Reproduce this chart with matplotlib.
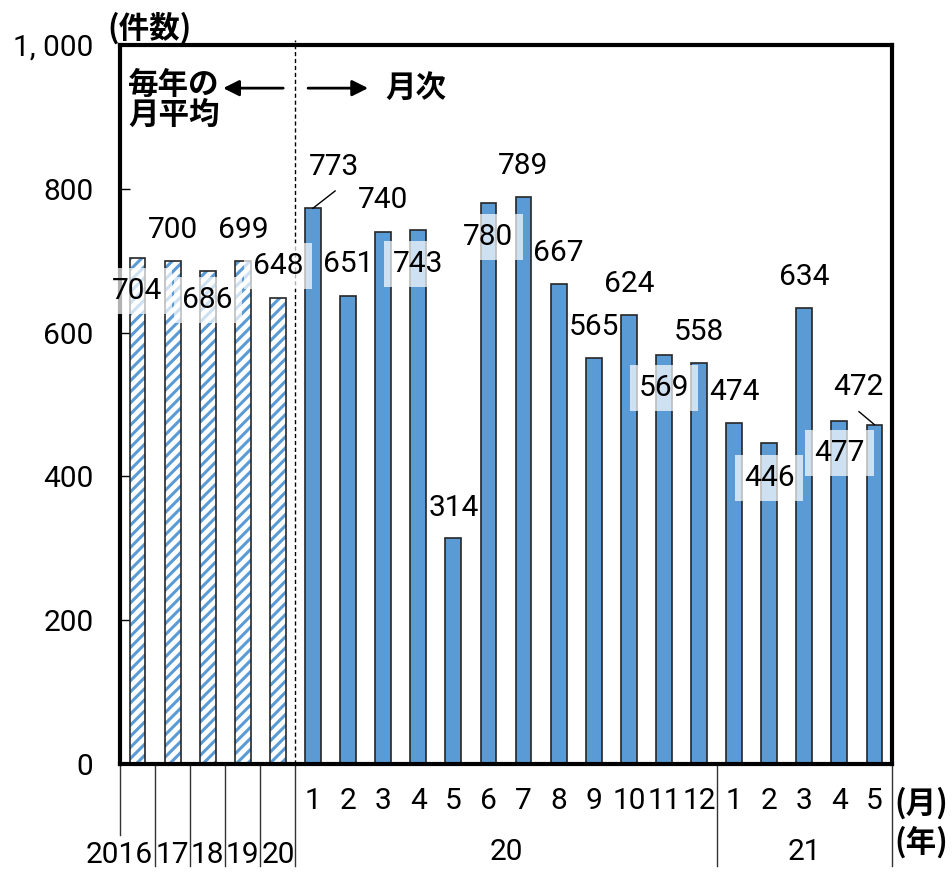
import matplotlib
matplotlib.use('Agg')
import matplotlib.pyplot as plt
import matplotlib.transforms as mtransforms
from matplotlib.lines import Line2D

plt.rcParams['font.family'] = ['Noto Sans CJK JP', 'DejaVu Sans']
plt.rcParams['hatch.linewidth'] = 2.2

# ---------------- data ----------------
annual_years = ['2016', '17', '18', '19', '20']
annual_values = [704, 700, 686, 699, 648]

month_labels = ['1', '2', '3', '4', '5', '6', '7', '8', '9', '10', '11', '12',
                '1', '2', '3', '4', '5']
monthly_values = [773, 651, 740, 743, 314, 780, 789, 667, 565, 624, 569, 558,
                  474, 446, 634, 477, 472]
period_years = ['20', '21']
period_lengths = [12, 5]

y_ticks = [0, 200, 400, 600, 800, 1000]
y_tick_labels = ['0', '200', '400', '600', '800', '1, 000']

# ---------------- label layout (offset from bar centre, absolute height) ----
label_dx = [0, 0, 0, 0, 0,
            0.6, 0, 0, 0, 0, 0, 0, 0, 0, 0, 0, 0,
            0, 0, 0, 0, -0.45]
label_y = [658, 743, 645, 743, 693,
           830, 695, 784, 695, 356, 733, 832, 711, 608, 668, 523, 601,
           517, 398, 677, 433, 524]
label_box = [True, False, True, False, True,
             False, False, False, True, False, True, False, False, False, False, True, False,
             False, True, False, True, False]
leader_end = {5: (5.63, 797), 21: (20.56, 490)}

BLUE = '#5B9BD5'
EDGE = '#262626'
FS = 21.5
NUM_FONT = dict(family=['Roboto', 'Noto Sans CJK JP', 'DejaVu Sans'], fontweight='normal')

fig = plt.figure(figsize=(9.53, 8.72), dpi=100)
ax = fig.add_axes([120 / 953, 1 - 764 / 872, (892 - 120) / 953, (764 - 45) / 872])

n_ann = len(annual_values)
n_mon = len(monthly_values)
x_ann = list(range(n_ann))
x_mon = list(range(n_ann, n_ann + n_mon))
W = 0.45

# hatched annual-average bars
ax.bar(x_ann, annual_values, W, color='white', edgecolor=BLUE, hatch='///', linewidth=0, zorder=2)
ax.bar(x_ann, annual_values, W, fill=False, edgecolor=EDGE, linewidth=1.2, zorder=2.1)
# monthly bars
ax.bar(x_mon, monthly_values, W, color=BLUE, edgecolor=EDGE, linewidth=1.2, zorder=2)

ax.set_xlim(-0.5, n_ann + n_mon - 0.5)
ax.set_ylim(0, 1000)

for s in ax.spines.values():
    s.set_linewidth(3)
    s.set_color('black')

ax.set_xticks([])
ax.set_yticks(y_ticks)
ax.set_yticklabels(y_tick_labels)
ax.tick_params(axis='y', direction='in', length=7, width=1, pad=19)
for lab in ax.get_yticklabels():
    lab.set_fontsize(FS)
    lab.set_family(NUM_FONT['family'])
    lab.set_fontweight(NUM_FONT['fontweight'])

# value labels
all_vals = annual_values + monthly_values
for i, v in enumerate(all_vals):
    kw = {}
    if label_box[i]:
        kw['bbox'] = dict(boxstyle='square,pad=0.3', fc='white', ec='none', alpha=0.7)
    ax.text(i + label_dx[i], label_y[i], str(v), ha='center', va='center',
            fontsize=FS, zorder=4, **NUM_FONT, **kw)
    if i in leader_end:
        ex, ey = leader_end[i]
        ax.plot([i, ex], [v, ey], color='black', lw=1, zorder=4)

# dashed divider between annual averages and monthly values
ax.plot([n_ann - 0.5, n_ann - 0.5], [0, 1007], ls=(0, (3, 2)), color='black', lw=1,
        clip_on=False, zorder=3)

# annotations inside
ax.text(-0.27, 944, '毎年の', ha='left', va='center', fontsize=22, fontweight='bold')
ax.text(-0.27, 903, '月平均', ha='left', va='center', fontsize=22, fontweight='bold')
ax.annotate('', xy=(2.44, 940), xytext=(4.15, 940),
            arrowprops=dict(arrowstyle='-|>', lw=2, color='black', mutation_scale=24,
                            shrinkA=0, shrinkB=0))
ax.annotate('', xy=(6.57, 940), xytext=(4.86, 940),
            arrowprops=dict(arrowstyle='-|>', lw=2, color='black', mutation_scale=24,
                            shrinkA=0, shrinkB=0))
ax.text(7.05, 940, '月次', ha='left', va='center', fontsize=22, fontweight='bold')

# category axis below the plot
t_cat = mtransforms.blended_transform_factory(ax.transData, fig.transFigure)
for i, m in enumerate(month_labels):
    ax.text(x_mon[i], 1 - 801 / 872, m, transform=t_cat, ha='center', va='center',
            fontsize=FS, clip_on=False, **NUM_FONT)

for i, yl in enumerate(annual_years):
    xx = x_ann[i] - 0.53 if i == 0 else x_ann[i]
    ax.text(xx, 1 - 855 / 872, yl, transform=t_cat, ha='center', va='center',
            fontsize=FS, clip_on=False, **NUM_FONT)

start = n_ann
for yl, ln in zip(period_years, period_lengths):
    ax.text(start + (ln - 1) / 2, 1 - 852 / 872, yl, transform=t_cat, ha='center',
            va='center', fontsize=FS, clip_on=False, **NUM_FONT)
    start += ln

# separator lines
seps = [-0.5] + [i + 0.5 for i in x_ann]
start = n_ann
for ln in period_lengths:
    start += ln
    seps.append(start - 0.5)
for k, sx in enumerate(seps):
    bottom = 1 - (835 if k == 0 else 866) / 872
    ax.add_line(Line2D([sx, sx], [1 - 766 / 872, bottom], transform=t_cat,
                       color='#333333', lw=1, clip_on=False))

# unit labels
fig.text(150 / 953, 1 - 28 / 872, '(件数)', ha='center', va='center', fontsize=22,
         fontweight='bold')
fig.text(921 / 953, 1 - 803 / 872, '(月)', ha='center', va='center', fontsize=22,
         fontweight='bold')
fig.text(921 / 953, 1 - 842 / 872, '(年)', ha='center', va='center', fontsize=22,
         fontweight='bold')

fig.savefig('out.png', dpi=100)
